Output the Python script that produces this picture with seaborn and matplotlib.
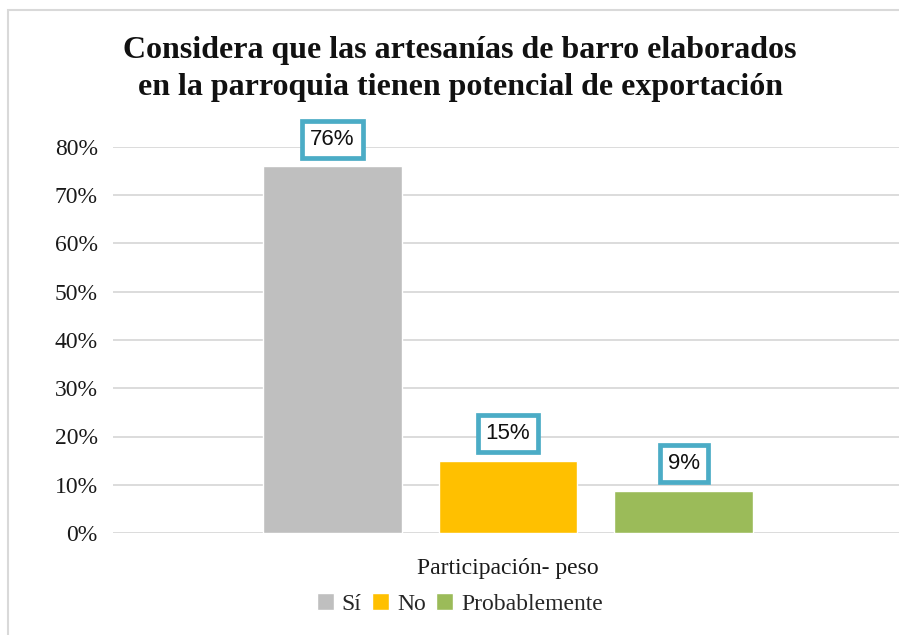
import numpy as np
import pandas as pd
import matplotlib
matplotlib.use("Agg")
import matplotlib.pyplot as plt
from matplotlib.patches import Rectangle
from matplotlib.ticker import PercentFormatter
import seaborn as sns

# data
grupo = ["Participación- peso"] * 3
respuestas = ["Sí", "No", "Probablemente"]
valores = [0.76, 0.15, 0.087]
colores = ["#BFBFBF", "#FFC000", "#9BBB59"]
titulo = ("Considera que las artesanías de barro elaborados\n"
          "en la parroquia tienen potencial de exportación")

df = pd.DataFrame({"grupo": grupo, "respuesta": respuestas, "valor": valores})

sns.set_theme(style="white")
plt.rcParams["font.family"] = ["Liberation Serif", "DejaVu Serif"]

fig = plt.figure(figsize=(8.99, 6.35), dpi=100)
W, H = 899, 635
ax = fig.add_axes([113 / W, 1 - 533 / H, (903 - 113) / W, (533 - 147) / H])

sns.barplot(data=df, x="grupo", y="valor", hue="respuesta",
            hue_order=respuestas, palette=colores, width=0.667, gap=0.21,
            saturation=1, ax=ax)

ax.set_ylim(0, 0.8)
ax.set_yticks(np.arange(0, 0.81, 0.1))
ax.yaxis.set_major_formatter(PercentFormatter(1.0, decimals=0))
ax.grid(axis="y", color="#D9D9D9", lw=1.3)
ax.set_axisbelow(True)
for s in ax.spines.values():
    s.set_visible(False)
ax.tick_params(axis="y", length=0, pad=11, labelsize=17, labelcolor="#1a1a1a")
ax.tick_params(axis="x", length=0, pad=18, labelsize=17, labelcolor="#1a1a1a")
ax.set_xlabel("")
ax.set_ylabel("")

for cont in ax.containers:
    ax.bar_label(cont, fmt=lambda v: f"{v*100:.0f}%", padding=12,
                 fontsize=16, family="Liberation Sans", color="#111111",
                 bbox=dict(boxstyle="square,pad=0.36", fc="white",
                           ec="#4BACC6", lw=3.4))

handles, labels = ax.get_legend_handles_labels()
ax.get_legend().remove()
fig.legend(handles, labels, loc="center", bbox_to_anchor=(460 / W, 1 - 604 / H),
           ncol=3, frameon=False, fontsize=17, handlelength=0.7,
           handleheight=0.7, handletextpad=0.35, columnspacing=0.45)

fig.text(460 / W, 1 - 69 / H, titulo, ha="center", va="center",
         fontsize=23, fontweight="bold", linespacing=1.38, color="#111111")

# outer chart frame (cut off at right and bottom in the reference)
fig.patches.append(Rectangle((8 / W, -0.1), 1.1, 1.1 - 10 / H,
                             transform=fig.transFigure, fill=False,
                             ec="#D9D9D9", lw=1.5))

fig.savefig("out.png", dpi=100)
